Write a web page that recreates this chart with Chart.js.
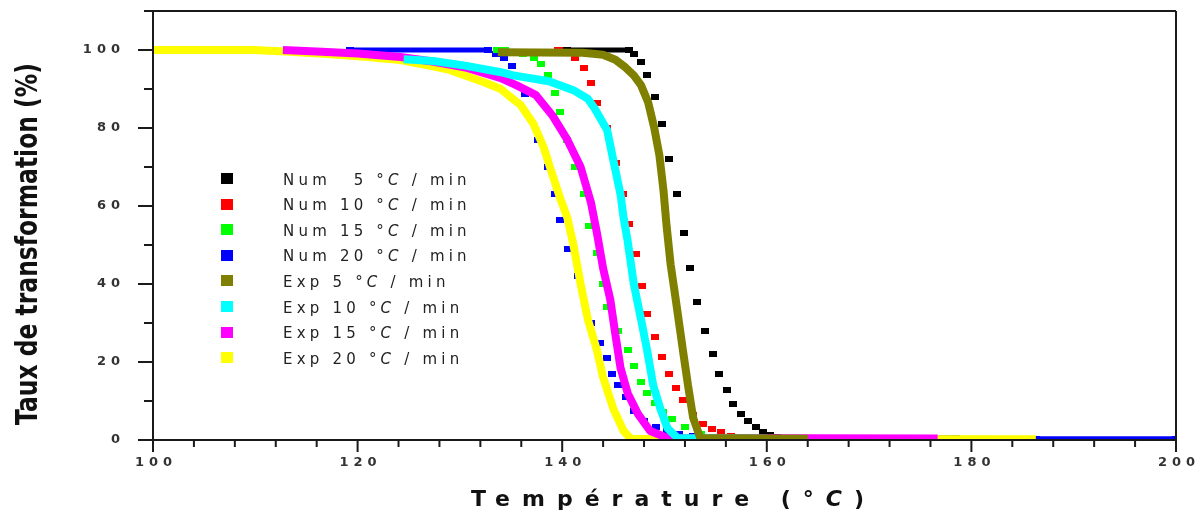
<!DOCTYPE html>
<html>
<head>
<meta charset="utf-8">
<title>Taux de transformation</title>
<script src="https://cdn.jsdelivr.net/npm/chart.js@4.4.1/dist/chart.umd.min.js"></script>
<style>
  html, body { margin: 0; padding: 0; background: #fff; }
</style>
</head>
<body>
<canvas id="graphe" width="1204" height="520"></canvas>
<script>
// Données : [température (°C), taux de transformation (%)]
// null = interruption de la courbe
const num5 = [[140.5,100],[146.5,100],[147.0,99],[147.7,97],[148.3,93.6],[149.1,88],[149.8,81],[150.4,72],[151.2,63],[151.9,53],[152.5,44],[153.2,35.5],[154.0,28],[154.7,22],[155.3,17],[156.1,12.7],[156.7,9.3],[157.5,6.7],[158.2,4.9],[158.9,3.3],[159.6,2.1],[160.3,1.3],[161.0,0.8],[162.0,0.5],[163.0,0.5]];
const num10 = [[139.6,100],[140.4,100],[141.3,98],[142.1,95.4],[142.8,91.5],[143.4,86.4],[144.4,80],[145.3,71],[145.9,63],[146.5,55.5],[147.2,47.6],[147.8,39.6],[148.3,32.4],[149.1,26.5],[149.8,21.4],[150.4,17],[151.1,13.4],[151.8,10.2],[152.8,6.4],[153.8,4.1],[154.6,2.9],[155.5,2.0],[156.5,0.9],[157.9,0.4]];
const num15 = [[133.6,100],[134.4,100],[136.2,99],[137.2,98],[137.9,96.5],[138.6,93.6],[139.3,89],[139.8,84],[140.5,77],[141.3,70],[142.1,63],[142.6,55],[143.4,48],[144.0,40],[144.4,34],[145.5,28],[146.4,23],[147.0,19],[147.7,15],[148.3,12],[149.1,9.5],[149.9,7.2],[150.7,5.4],[152.0,3.3],[153.6,1.6],[155.5,0.5]];
const num20 = [[119.3,100],[132.7,100],[133.5,99],[134.3,98],[135.1,96],[136.4,88.7],[137.6,77],[138.6,70],[139.3,63],[139.8,56.5],[140.6,49],[141.5,42],[142.8,30],[143.7,25],[144.4,21],[144.9,17],[145.5,14],[146.2,11],[147.0,7.5],[148.0,4.9],[149.2,3.3],[150.2,2.4],[151.4,1.5],[152.8,1.0],[165,null],[176.7,0.6],[178.5,0.6],[182,null],[186.3,0.3],[200,0.3]];

const exp5 = [[133.7,99.4],[142.0,99.3],[144.0,98.8],[145.2,97.5],[146.2,95.5],[147.0,93.5],[147.7,91],[148.4,86.6],[149.0,80],[149.5,73],[149.9,64],[150.2,55],[150.6,45],[151.1,36],[151.8,23],[152.3,14],[152.8,5.7],[153.5,0.5],[164.0,0.3]];
const exp10 = [[124.5,97.6],[127.4,97.2],[130.5,96],[134.0,94.3],[135.2,93.5],[138.7,92],[141.1,89.7],[142.5,87.5],[143.1,85.3],[144.4,79.4],[145.0,71.7],[145.7,63],[146.0,57],[146.4,51],[147.0,40],[147.7,31],[148.3,23],[148.9,14],[149.6,8],[150.3,3],[151.3,0.5],[160.0,0.3]];
const exp15 = [[112.7,100],[116.0,99.6],[120.0,99.1],[124.2,98.2],[127.5,97],[130.7,95.4],[134.0,92.8],[135.5,91],[137.4,88.5],[139.1,83],[140.5,77],[141.8,70],[142.8,61],[143.4,53],[144.0,44],[144.7,36],[145.2,27],[145.7,18.5],[146.4,12],[147.4,6.7],[148.6,2.3],[150.3,0.5],[176.7,0.4]];
const exp20 = [[100,100],[109.8,100],[113.0,99.6],[117.0,99],[121.0,98.2],[124.2,97.4],[127.0,96],[129.0,94.9],[131.0,93],[132.3,91.8],[134.0,90],[134.9,88],[135.9,86],[137.2,81],[138.2,75],[138.8,70],[139.8,62],[140.5,57],[141.1,50],[141.8,40],[142.5,31],[143.4,23],[144.0,16],[145.0,8],[146.0,2.3],[146.7,0.3],[186.3,0.2]];

const xTicks = [100, 120, 140, 160, 180, 200];
const xMinor = [104, 108, 112, 116, 124, 128, 132, 136, 144, 148, 152, 156, 164, 168, 172, 176, 184, 188, 192, 196];
const yTicks = [0, 20, 40, 60, 80, 100];
const yMinor = [10, 30, 50, 70, 90, 110];

const legende = ['Num \u20075 °C / min', 'Num 10 °C / min', 'Num 15 °C / min', 'Num 20 °C / min',
                 'Exp 5 °C / min', 'Exp 10 °C / min', 'Exp 15 °C / min', 'Exp 20 °C / min'];
const couleursLeg = ['#000000', '#ff0000', '#00ff00', '#0000ff', '#808000', '#00ffff', '#ff00ff', '#ffff00'];

function toPts(arr) {
  return arr.map(p => ({ x: p[0], y: p[1] }));
}

// petit rectangle utilisé comme marqueur des points numériques
function pave(couleur) {
  const c = document.createElement('canvas');
  c.width = 8; c.height = 6;
  const g = c.getContext('2d');
  g.fillStyle = couleur;
  g.fillRect(0, 0, 8, 6);
  return c;
}

// on ne trace le trait que sur les paliers (100 % ou ~0 %)
function plat(s) {
  const a = s.p0.parsed.y, b = s.p1.parsed.y;
  return (a >= 99.5 && b >= 99.5) || (a <= 0.7 && b <= 0.7);
}

function serieExp(label, data, couleur) {
  return {
    label, data: toPts(data), showLine: true, borderColor: couleur, backgroundColor: couleur,
    borderWidth: 8, pointRadius: 0, tension: 0, borderCapStyle: 'butt', borderJoinStyle: 'bevel'
  };
}

function serieNum(label, data, couleur) {
  return {
    label, data: toPts(data), showLine: true, spanGaps: false, borderColor: couleur, backgroundColor: couleur,
    borderWidth: 5, borderCapStyle: 'butt', pointStyle: pave(couleur), pointRadius: 4,
    segment: { borderColor: s => plat(s) ? couleur : 'rgba(0,0,0,0)' }
  };
}

// texte avec espacement des lettres ; morceaux = [[texte, police], ...]
function texteEspace(ctx, morceaux, x, y, espacement) {
  ctx.letterSpacing = espacement + 'px';
  for (const [t, police] of morceaux) {
    ctx.font = police;
    ctx.fillText(t, x, y);
    x += ctx.measureText(t).width;
  }
}

const cadre = {
  id: 'cadre',
  beforeDraw(chart) {
    chart.ctx.letterSpacing = '5px';
  },
  afterDatasetsDraw(chart) {
    const ctx = chart.ctx;
    const a = chart.chartArea;
    const xs = chart.scales.x, ys = chart.scales.y;
    ctx.save();
    ctx.strokeStyle = '#1a1a1a';
    ctx.lineWidth = 2;
    ctx.beginPath();
    ctx.moveTo(a.left, a.top); ctx.lineTo(a.left, a.bottom);
    ctx.moveTo(a.left, a.bottom); ctx.lineTo(a.right, a.bottom);
    ctx.moveTo(a.left, a.top); ctx.lineTo(a.right, a.top);
    ctx.moveTo(a.right, a.top); ctx.lineTo(a.right, a.bottom);
    yTicks.forEach(v => { const p = ys.getPixelForValue(v); ctx.moveTo(a.left - 15, p); ctx.lineTo(a.left, p); });
    yMinor.forEach(v => { const p = ys.getPixelForValue(v); ctx.moveTo(a.left - 9, p); ctx.lineTo(a.left, p); });
    xTicks.forEach(v => { const p = xs.getPixelForValue(v); ctx.moveTo(p, a.bottom); ctx.lineTo(p, a.bottom + 12); });
    xMinor.forEach(v => { const p = xs.getPixelForValue(v); ctx.moveTo(p, a.bottom); ctx.lineTo(p, a.bottom + 7); });
    ctx.stroke();
    ctx.restore();
  },
  afterDraw(chart) {
    const ctx = chart.ctx;
    ctx.save();
    ctx.fillStyle = '#111';

    // titre de l'axe x
    const gras = 'bold 22px "DejaVu Sans"', grasIt = 'italic bold 22px "DejaVu Sans"';
    const mx = [['Température (°', gras], ['C', grasIt], [')', gras]];
    ctx.letterSpacing = '0px';
    let nat = 0, n = 0;
    mx.forEach(([t, f]) => { ctx.font = f; nat += ctx.measureText(t).width; n += t.length; });
    ctx.textAlign = 'left';
    ctx.textBaseline = 'alphabetic';
    texteEspace(ctx, mx, 471, 506, (393 - nat) / (n - 1));

    // titre de l'axe y
    ctx.letterSpacing = '0px';
    ctx.font = 'bold 30px "DejaVu Sans"';
    const ty = 'Taux de transformation (%)';
    const w = ctx.measureText(ty).width;
    ctx.save();
    ctx.translate(37, 244);
    ctx.rotate(-Math.PI / 2);
    ctx.scale(362 / w, 1);
    ctx.textAlign = 'center';
    ctx.fillText(ty, 0, 0);
    ctx.restore();

    // légende dans le cadre
    const f = '15px "DejaVu Sans"', fi = 'italic 15px "DejaVu Sans"';
    legende.forEach((txt, i) => {
      const yc = 178.5 + i * 25.6;
      ctx.fillStyle = couleursLeg[i];
      ctx.fillRect(221, Math.round(yc - 5.5), 12, 11);
      const [avant, apres] = txt.split('C');
      ctx.fillStyle = '#222';
      texteEspace(ctx, [[avant, f], ['C', fi], [apres, f]], 283, yc + 6, 4.2);
    });

    ctx.restore();
    ctx.letterSpacing = '0px';
  }
};

const policeTicks = { family: 'DejaVu Sans', size: 13, weight: 'bold' };

new Chart(document.getElementById('graphe'), {
  type: 'scatter',
  data: {
    datasets: [
      serieExp('Exp 5 °C/min', exp5, '#808000'),
      serieExp('Exp 10 °C/min', exp10, '#00ffff'),
      serieExp('Exp 15 °C/min', exp15, '#ff00ff'),
      serieExp('Exp 20 °C/min', exp20, '#ffff00'),
      serieNum('Num 5 °C/min', num5, '#000000'),
      serieNum('Num 10 °C/min', num10, '#ff0000'),
      serieNum('Num 15 °C/min', num15, '#00ff00'),
      serieNum('Num 20 °C/min', num20, '#0000ff')
    ]
  },
  options: {
    responsive: false,
    animation: false,
    events: [],
    layout: { padding: { top: 11, right: 28, left: 0, bottom: 0 } },
    plugins: {
      legend: { display: false },
      tooltip: { enabled: false }
    },
    scales: {
      x: {
        type: 'linear', min: 100, max: 200,
        afterBuildTicks: s => { s.ticks = xTicks.map(v => ({ value: v })); },
        afterFit: s => { s.height = 80; s.paddingLeft = 0; s.paddingRight = 0; },
        grid: { display: false, drawTicks: false },
        border: { display: false },
        ticks: { padding: 15, labelOffset: 3, maxRotation: 0, autoSkip: false, color: '#333', font: policeTicks }
      },
      y: {
        type: 'linear', min: 0, max: 110,
        afterBuildTicks: s => { s.ticks = yTicks.map(v => ({ value: v })); },
        afterFit: s => { s.width = 153; s.paddingTop = 0; s.paddingBottom = 0; },
        grid: { display: false, drawTicks: false },
        border: { display: false },
        ticks: { padding: 28, autoSkip: false, color: '#333', font: policeTicks }
      }
    }
  },
  plugins: [cadre]
});
</script>
</body>
</html>
